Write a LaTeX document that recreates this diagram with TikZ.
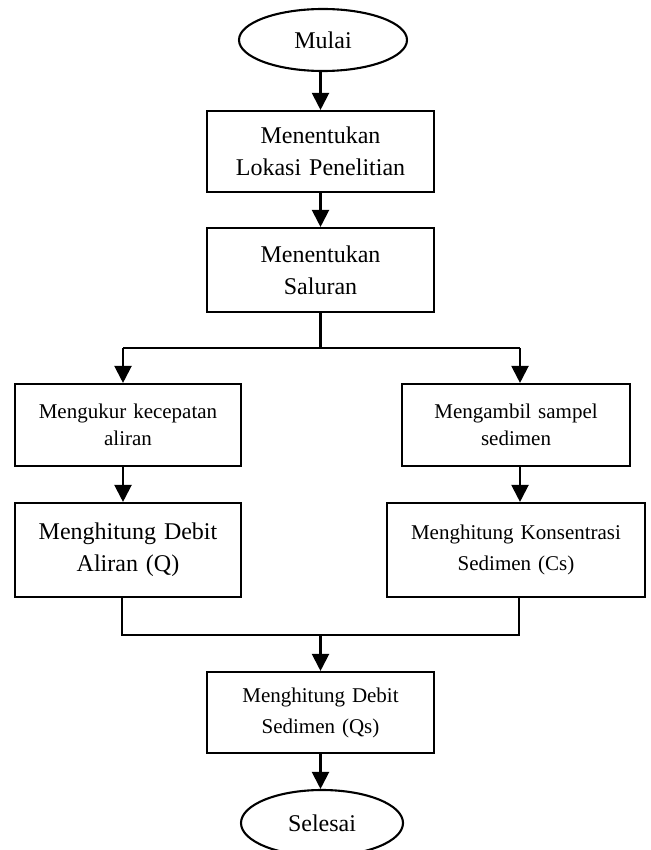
\documentclass[tikz,border=0pt]{standalone}
\usepackage{fontspec}
\setmainfont{Liberation Serif}
\usetikzlibrary{arrows.meta,shapes.geometric}
\tikzset{
  line/.style={line width=2.1pt},
  arr/.style={line width=2.1pt,-{Triangle[width=17pt,length=17pt]}},
  boxx/.style={draw,line width=2.1pt,rectangle,inner sep=0pt,align=center,text width=#1},
  boxx/.default=220pt,
  oval/.style={draw,line width=2.1pt,ellipse,inner sep=0pt,align=center},
  big/.style={font=\fontsize{24}{32}\selectfont},
  small/.style={font=\fontsize{21}{27}\selectfont},
  smallw/.style={font=\fontsize{21}{31}\selectfont}
}
\begin{document}
\begin{tikzpicture}[x=1pt,y=-1pt]
\useasboundingbox (0,0) rectangle (650,850);
\clip (0,0) rectangle (650,850);
% nodes
\node[oval,big,minimum width=168pt,minimum height=62pt] (mulai) at (323,40) {Mulai};
\node[boxx,big,minimum width=227pt,minimum height=81pt] (lokasi) at (320.5,151.5) {Menentukan\\Lokasi Penelitian};
\node[boxx,big,minimum width=227pt,minimum height=84pt] (saluran) at (320.5,270) {Menentukan\\Saluran};
\node[boxx,small,minimum width=226pt,minimum height=82pt] (ukur) at (128,425) {Mengukur kecepatan\\aliran};
\node[boxx,big,minimum width=226pt,minimum height=94pt] (debitq) at (128,550) {Menghitung Debit\\Aliran (Q)\\[-6pt]};
\node[boxx,small,minimum width=228pt,minimum height=82pt] (sampel) at (516,425) {Mengambil sampel\\sedimen};
\node[boxx=250pt,smallw,minimum width=258pt,minimum height=94pt] (konsen) at (516,550) {Menghitung Konsentrasi\\Sedimen (Cs)\\[-12pt]};
\node[boxx,smallw,minimum width=227pt,minimum height=81pt] (debitqs) at (320.5,712.5) {Menghitung Debit\\Sedimen (Qs)};
\node[oval,big,minimum width=162pt,minimum height=66pt] (selesai) at (322,823) {Selesai};
% junction coordinates
\coordinate (sm) at (320.5,348);
\coordinate (sl) at (123,348);
\coordinate (sr) at (520,348);
\coordinate (ml) at (122,635);
\coordinate (mr) at (519,635);
\coordinate (mm) at (320.5,635);
% connectors
\draw[arr] (mulai.south -| lokasi.north) -- (lokasi.north);
\draw[arr] (lokasi.south) -- (saluran.north);
\draw[line] (saluran.south) -- (sm);
\draw[line] (sl) -- (sr);
\draw[arr] (sl) -- (sl |- ukur.north);
\draw[arr] (sr) -- (sr |- sampel.north);
\draw[arr] (ukur.south -| sl) -- (debitq.north -| sl);
\draw[arr] (sampel.south -| sr) -- (konsen.north -| sr);
\draw[line] (debitq.south -| ml) -- (ml) -- (mr) -- (konsen.south -| mr);
\draw[arr] (mm) -- (debitqs.north);
\draw[arr] (debitqs.south) -- (debitqs.south |- selesai.north);
\end{tikzpicture}
\end{document}
